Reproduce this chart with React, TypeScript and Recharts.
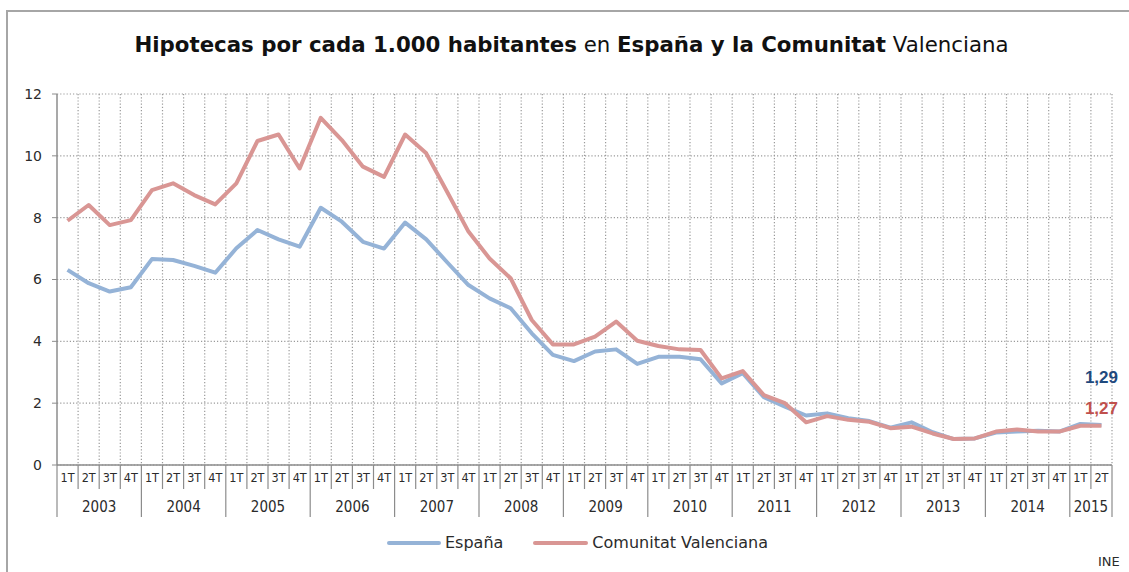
import React from 'react';
import { LineChart, Line, XAxis, YAxis, CartesianGrid, LabelList } from 'recharts';

const years = ['2003', '2004', '2005', '2006', '2007', '2008', '2009', '2010', '2011', '2012', '2013', '2014', '2015'];
const quarterNames = ['1T', '2T', '3T', '4T'];
const quartersIn2015 = ['1T', '2T'];
const yTicks = [0, 2, 4, 6, 8, 10, 12];

const espana = [
  6.31, 5.88, 5.61, 5.75,
  6.66, 6.63, 6.44, 6.22,
  7.01, 7.60, 7.30, 7.06,
  8.32, 7.87, 7.22, 7.00,
  7.84, 7.30, 6.55, 5.82,
  5.39, 5.07, 4.26, 3.56,
  3.36, 3.67, 3.74, 3.27,
  3.50, 3.50, 3.42, 2.64,
  2.97, 2.19, 1.89, 1.60,
  1.67, 1.51, 1.42, 1.21,
  1.38, 1.06, 0.84, 0.86,
  1.05, 1.08, 1.11, 1.08,
  1.33, 1.29,
];

const valencia = [
  7.90, 8.41, 7.76, 7.92,
  8.89, 9.11, 8.73, 8.43,
  9.11, 10.48, 10.69, 9.59,
  11.23, 10.51, 9.65, 9.32,
  10.69, 10.08, 8.82, 7.55,
  6.68, 6.04, 4.69, 3.90,
  3.90, 4.15, 4.64, 4.02,
  3.85, 3.74, 3.72, 2.80,
  3.04, 2.26, 2.00, 1.38,
  1.58, 1.46, 1.40, 1.19,
  1.24, 1.02, 0.84, 0.86,
  1.08, 1.15, 1.08, 1.08,
  1.27, 1.27,
];

const periods: string[] = years.flatMap((y) => (y === '2015' ? quartersIn2015 : quarterNames).map((q) => `${y}|${q}`));
const data = periods.map((p, i) => ({ period: p, espana: espana[i], valencia: valencia[i] }));

const W = 1129;
const H = 572;
const PLOT_LEFT = 57;
const PLOT_RIGHT = 1112;
const PLOT_TOP = 94;
const PLOT_BOTTOM = 465;
const YAXIS_W = 40;
const XAXIS_H = 55;
const STEP = (PLOT_RIGHT - PLOT_LEFT) / periods.length;
const LAST = periods.length - 1;

const FONT = '"DejaVu Sans", "Noto Sans", sans-serif';
const FONT_COND = '"DejaVu Sans Condensed", "DejaVu Sans", sans-serif';
const AXIS_COLOR = '#8C8C8C';
const TEXT_COLOR = '#2B2B2B';
const BLUE = '#95B3D7';
const RED = '#D99694';

const fmt = (v: number) => v.toFixed(2).replace('.', ',');

const QuarterTick = (props: any) => {
  const { x, y, payload } = props;
  const value = String(payload.value);
  const [yr, q] = value.split('|');
  const idx = periods.indexOf(value);
  const left = x - STEP / 2;
  const count = periods.filter((p) => p.startsWith(yr + '|')).length;
  return (
    <g>
      <text x={x} y={y + 17} textAnchor="middle" fontSize={12.5} fontFamily={FONT_COND} fill={TEXT_COLOR}>
        {q}
      </text>
      <line x1={left} y1={y} x2={left} y2={y + (q === '1T' ? 52 : 24)} stroke={AXIS_COLOR} strokeWidth={1.2} />
      {q === '1T' && (
        <text x={left + (count * STEP) / 2} y={y + 46.5} textAnchor="middle" fontSize={15} fontFamily={FONT_COND} fill={TEXT_COLOR}>
          {yr}
        </text>
      )}
      {idx === LAST && (
        <line x1={x + STEP / 2} y1={y} x2={x + STEP / 2} y2={y + 52} stroke={AXIS_COLOR} strokeWidth={1.2} />
      )}
    </g>
  );
};

const endLabel = (color: string, dy: number) => (p: any) => {
  if (p.index !== LAST) return null;
  return (
    <text
      x={Number(p.x)}
      y={Number(p.y) + dy}
      textAnchor="middle"
      fontSize={17}
      fontWeight="bold"
      fontFamily='"Liberation Sans", Arial, sans-serif'
      fill={color}
    >
      {fmt(Number(p.value))}
    </text>
  );
};

export default function App() {
  return (
    <div style={{ position: 'absolute', left: 0, top: 0, width: W, height: H, overflow: 'hidden', background: '#fff' }}>
      <div
        style={{
          position: 'absolute',
          left: 6,
          top: 10,
          width: W + 20,
          height: H + 20,
          border: '2px solid #A6A6A6',
          boxSizing: 'border-box',
        }}
      />
      <div
        style={{
          position: 'absolute',
          left: 0,
          top: 32,
          width: 1143,
          textAlign: 'center',
          fontFamily: FONT,
          fontSize: 21.3,
          color: '#111',
          whiteSpace: 'nowrap',
        }}
      >
        <span style={{ fontWeight: 'bold' }}>Hipotecas por cada 1.000 habitantes</span>
        <span> en </span>
        <span style={{ fontWeight: 'bold' }}>España y la Comunitat</span>
        <span> Valenciana</span>
      </div>
      <div style={{ position: 'absolute', left: 0, top: 0 }}>
        <LineChart
          width={W}
          height={H}
          data={data}
          margin={{ top: PLOT_TOP, right: W - PLOT_RIGHT, left: PLOT_LEFT - YAXIS_W, bottom: H - PLOT_BOTTOM - XAXIS_H }}
        >
          <CartesianGrid
            stroke="#9A9A9A"
            strokeWidth={1.2}
            strokeDasharray="1.2 2"
            verticalCoordinatesGenerator={(args: any) => {
              const off = args && args.offset ? args.offset : { left: PLOT_LEFT, width: PLOT_RIGHT - PLOT_LEFT };
              const step = off.width / periods.length;
              return periods.map((_, i) => off.left + (i + 1) * step);
            }}
          />
          <XAxis
            dataKey="period"
            scale="band"
            interval={0}
            height={XAXIS_H}
            tickLine={false}
            tickSize={0}
            tickMargin={0}
            axisLine={{ stroke: AXIS_COLOR, strokeWidth: 1.5 }}
            tick={<QuarterTick />}
          />
          <YAxis
            domain={[0, 12]}
            ticks={yTicks}
            width={YAXIS_W}
            tickSize={5}
            tickMargin={10}
            axisLine={{ stroke: AXIS_COLOR, strokeWidth: 1.5 }}
            tickLine={{ stroke: AXIS_COLOR }}
            tick={{ fontSize: 14, fontFamily: FONT, fill: TEXT_COLOR }}
          />
          <Line
            type="linear"
            dataKey="espana"
            stroke={BLUE}
            strokeWidth={4}
            dot={false}
            isAnimationActive={false}
            strokeLinejoin="round"
          >
            <LabelList dataKey="espana" content={endLabel('#1F497D', -42)} />
          </Line>
          <Line
            type="linear"
            dataKey="valencia"
            stroke={RED}
            strokeWidth={4}
            dot={false}
            isAnimationActive={false}
            strokeLinejoin="round"
          >
            <LabelList dataKey="valencia" content={endLabel('#C0504D', -12)} />
          </Line>
        </LineChart>
      </div>
      <div
        style={{
          position: 'absolute',
          left: 387,
          top: 533,
          display: 'flex',
          alignItems: 'center',
          fontFamily: FONT,
          fontSize: 16,
          color: TEXT_COLOR,
          whiteSpace: 'nowrap',
        }}
      >
        <div style={{ display: 'flex', alignItems: 'center', marginRight: 30 }}>
          <div style={{ width: 54, height: 4, borderRadius: 2, background: BLUE, marginRight: 4 }} />
          <span>España</span>
        </div>
        <div style={{ display: 'flex', alignItems: 'center' }}>
          <div style={{ width: 55, height: 4, borderRadius: 2, background: RED, marginRight: 4 }} />
          <span>Comunitat Valenciana</span>
        </div>
      </div>
      <div style={{ position: 'absolute', left: 1098, top: 554, fontFamily: FONT, fontSize: 13, color: TEXT_COLOR }}>INE</div>
    </div>
  );
}
